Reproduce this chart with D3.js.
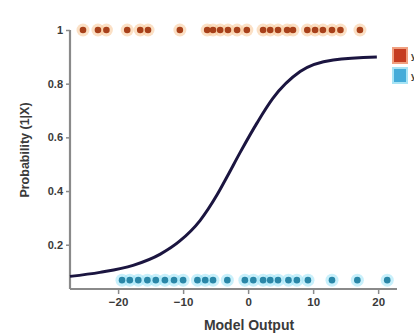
<!DOCTYPE html>
<html>
<head>
<meta charset="utf-8">
<script src="https://cdn.jsdelivr.net/npm/d3@7"></script>
<style>
  html, body { margin: 0; padding: 0; background: #fff; }
  svg { display: block; }
  text { font-family: "Liberation Sans", Arial, sans-serif; }
</style>
</head>
<body>
<svg id="chart" width="414" height="336"></svg>
<script>
// ---- data ----
const xTicks = [-20, -10, 0, 10, 20];
const yTicks = [0.2, 0.4, 0.6, 0.8, 1];
const yTickLabels = ["0.2", "0.4", "0.6", "0.8", "1"];

// fitted curve (Model Output -> Probability)
const curveX = [-27.4, -22.8, -17.7, -13.5, -10.5, -7.4, -4.8, -3.2, -1.2, 1.4, 3.8, 8.0, 13.1, 19.8];
const curveY = [0.082, 0.097, 0.123, 0.165, 0.214, 0.29, 0.385, 0.455, 0.545, 0.655, 0.745, 0.845, 0.888, 0.899];

// class 1 samples (drawn at top)
const class1X = [-25.4, -23.1, -21.8, -18.6, -16.6, -15.4, -10.5, -6.3, -5.4, -4.3, -3.1, -1.7, -0.2,
                 2.3, 3.4, 4.6, 6.0, 6.9, 9.1, 10.3, 11.5, 12.9, 14.2, 17.2];
const class1Y = 1.0;

// class 0 samples (drawn at bottom)
const class0X = [-19.4, -18.2, -16.9, -15.5, -14.2, -12.8, -11.4, -10.0, -7.8, -6.6, -5.4, -3.2,
                 -0.5, 0.8, 2.3, 3.4, 4.6, 6.2, 7.5, 9.2, 12.9, 16.8, 21.4];
const class0Y = 0.068;

const legendLabels = ["y=1", "y=0"];
const xLabel = "Model Output";
const yLabel = "Probability (1|X)";

// ---- layout ----
const svg = d3.select("#chart");
const x = d3.scaleLinear().domain([-27.4, 22.9]).range([70, 397]);
const y = d3.scaleLinear().domain([0.035, 1]).range([289, 30]);

const axisColor = "#8a8a8a";
const textColor = "#3a3a3a";

// y axis
const yAxis = svg.append("g").attr("transform", `translate(${x(-27.4)},0)`)
  .call(d3.axisLeft(y).tickValues(yTicks).tickFormat((d, i) => yTickLabels[i]).tickSize(4).tickPadding(3));
yAxis.select(".domain").remove();
yAxis.append("line").attr("x1", 0).attr("x2", 0).attr("y1", y(1)).attr("y2", y(0.035))
  .attr("stroke", axisColor).attr("stroke-width", 2.2);
yAxis.selectAll(".tick line").attr("stroke", axisColor).attr("stroke-width", 1.5);
yAxis.selectAll(".tick text").attr("fill", textColor).attr("font-size", 11).attr("font-weight", "bold");

// x axis
const xAxis = svg.append("g").attr("transform", `translate(0,${y(0.035)})`)
  .call(d3.axisBottom(x).tickValues(xTicks).tickFormat(d3.format("d")).tickSize(5).tickPadding(4));
xAxis.select(".domain").remove();
xAxis.append("line").attr("x1", x(-27.4)).attr("x2", x(22.9)).attr("y1", 0).attr("y2", 0)
  .attr("stroke", axisColor).attr("stroke-width", 2.2);
xAxis.selectAll(".tick line").attr("stroke", axisColor).attr("stroke-width", 1.5);
xAxis.selectAll(".tick text").attr("fill", textColor).attr("font-size", 11.5).attr("font-weight", "bold");

// axis labels
svg.append("text").attr("x", 249).attr("y", 330).attr("text-anchor", "middle")
  .attr("font-size", 14).attr("font-weight", "bold").attr("fill", textColor).text(xLabel);
svg.append("text").attr("transform", "translate(29,150) rotate(-90)").attr("text-anchor", "middle")
  .attr("font-size", 12.5).attr("font-weight", "bold").attr("fill", textColor).text(yLabel);

// points - class 0 (blue)
const g0 = svg.append("g");
g0.selectAll("circle.halo").data(class0X).join("circle").attr("class", "halo")
  .attr("cx", d => x(d)).attr("cy", y(class0Y)).attr("r", 6.5).attr("fill", "#9be3f7").attr("opacity", 0.55);
g0.selectAll("circle.pt").data(class0X).join("circle").attr("class", "pt")
  .attr("cx", d => x(d)).attr("cy", y(class0Y)).attr("r", 3.3).attr("fill", "#2a87a8");

// points - class 1 (red)
const g1 = svg.append("g");
g1.selectAll("circle.halo").data(class1X).join("circle").attr("class", "halo")
  .attr("cx", d => x(d)).attr("cy", y(class1Y)).attr("r", 6.5).attr("fill", "#f8c795").attr("opacity", 0.55);
g1.selectAll("circle.pt").data(class1X).join("circle").attr("class", "pt")
  .attr("cx", d => x(d)).attr("cy", y(class1Y)).attr("r", 3.3).attr("fill", "#a8401a");

// curve
const pts = curveX.map((d, i) => [d, curveY[i]]);
svg.append("path").datum(pts)
  .attr("d", d3.line().x(d => x(d[0])).y(d => y(d[1])).curve(d3.curveMonotoneX))
  .attr("fill", "none").attr("stroke", "#1b1540").attr("stroke-width", 3);

// legend (clipped by the right edge, as in the reference)
const legColors = ["#c53d22", "#45acd9"];
const legStroke = ["#f0a080", "#a8e4f5"];
const leg = svg.append("g");
legendLabels.forEach((lab, i) => {
  leg.append("rect").attr("x", 393).attr("y", 48 + i * 20).attr("width", 14).attr("height", 15)
    .attr("fill", legColors[i]).attr("stroke", legStroke[i]).attr("stroke-width", 2);
  leg.append("text").attr("x", 411).attr("y", 59 + i * 20).attr("font-size", 9)
    .attr("font-weight", "bold").attr("fill", textColor).text(lab);
});
</script>
</body>
</html>
